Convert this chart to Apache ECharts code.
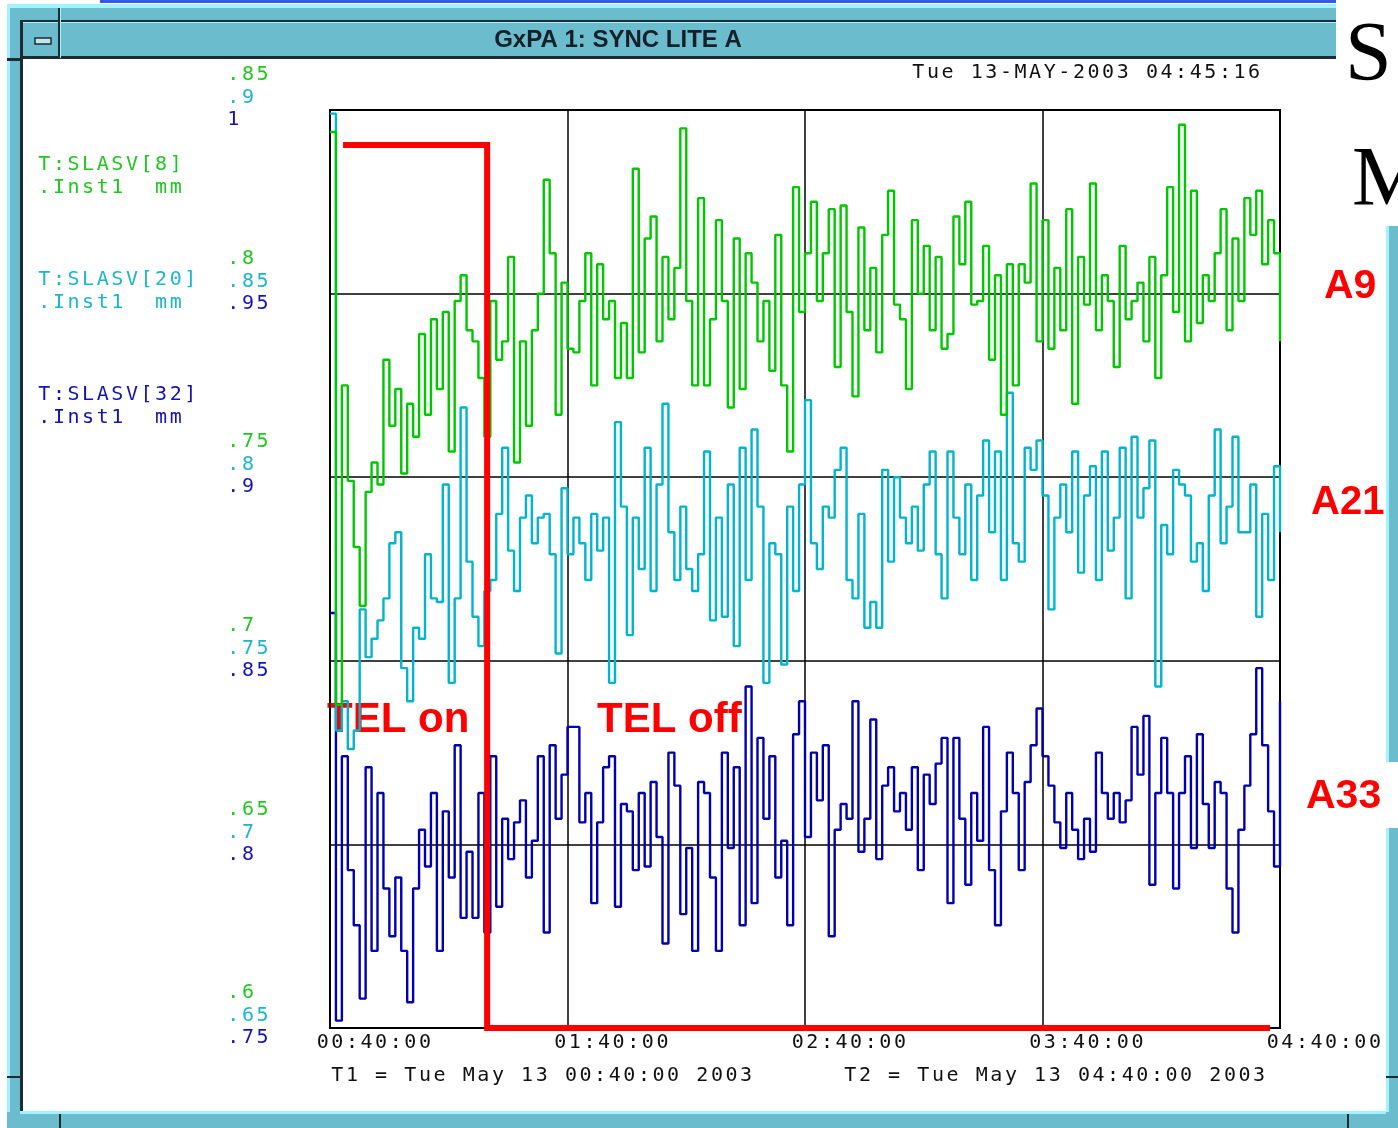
<!DOCTYPE html>
<html><head><meta charset="utf-8">
<script src="https://cdn.jsdelivr.net/npm/echarts@6/dist/echarts.min.js"></script>
<style>html,body{margin:0;padding:0;background:#fff;overflow:hidden}#c{width:1398px;height:1128px}</style>
</head><body><div id="c"></div>
<script>
// ---- data ----
const STEP_MIN = 1.5; // sample spacing in minutes from 00:40:00
const xTickLabels = ['00:40:00', '01:40:00', '02:40:00', '03:40:00', '04:40:00'];
const seriesNames = ['T:SLASV[8]', 'T:SLASV[20]', 'T:SLASV[32]'];
const unitLabel = '.Inst1  mm';
const greenTicks = ['.85', '.8', '.75', '.7', '.65', '.6'];
const cyanTicks = ['.9', '.85', '.8', '.75', '.7', '.65'];
const blueTicks = ['1', '.95', '.9', '.85', '.8', '.75'];

const greenValues = [
 0.844, 0.688, 0.775, 0.749, 0.731, 0.715, 0.746, 0.754, 0.748, 0.782, 0.764, 0.774, 0.751, 0.770, 0.761, 0.789, 0.767, 0.793, 0.774, 0.795,
 0.757, 0.798, 0.805, 0.790, 0.787, 0.777, 0.761, 0.798, 0.782, 0.787, 0.810, 0.754, 0.787, 0.764, 0.790, 0.800, 0.831, 0.811, 0.767, 0.803, 0.785,
 0.784, 0.798, 0.811, 0.775, 0.808, 0.793, 0.798, 0.777, 0.792, 0.777, 0.834, 0.784, 0.815, 0.821, 0.787, 0.810, 0.793, 0.807, 0.845, 0.798,
 0.775, 0.826, 0.775, 0.793, 0.820, 0.798, 0.769, 0.815, 0.774, 0.811, 0.803, 0.787, 0.798, 0.779, 0.816, 0.775, 0.757, 0.829, 0.795,
 0.811, 0.825, 0.798, 0.811, 0.823, 0.780, 0.824, 0.795, 0.772, 0.818, 0.790, 0.807, 0.784, 0.816, 0.828, 0.797, 0.793, 0.774, 0.820, 0.800,
 0.813, 0.790, 0.810, 0.785, 0.789, 0.821, 0.808, 0.825, 0.797, 0.798, 0.813, 0.782, 0.805, 0.767, 0.808, 0.775, 0.808, 0.803, 0.830, 0.787,
 0.820, 0.785, 0.807, 0.790, 0.823, 0.770, 0.810, 0.797, 0.830, 0.790, 0.805, 0.798, 0.780, 0.813, 0.793, 0.798, 0.803, 0.787, 0.810, 0.777,
 0.805, 0.829, 0.795, 0.846, 0.787, 0.828, 0.792, 0.805, 0.798, 0.811, 0.823, 0.790, 0.815, 0.798, 0.826, 0.816, 0.828, 0.808, 0.820, 0.811, 0.787
];
const cyanValues = [
 0.899, 0.731, 0.739, 0.726, 0.731, 0.764, 0.751, 0.756, 0.761, 0.767, 0.782, 0.785, 0.748, 0.739, 0.759, 0.756, 0.779, 0.767, 0.766, 0.798,
 0.744, 0.767, 0.819, 0.777, 0.762, 0.754, 0.769, 0.772, 0.790, 0.808, 0.780, 0.769, 0.789, 0.795, 0.782, 0.789, 0.790, 0.779, 0.752, 0.797, 0.779,
 0.789, 0.782, 0.772, 0.790, 0.780, 0.789, 0.744, 0.815, 0.792, 0.757, 0.789, 0.775, 0.808, 0.769, 0.798, 0.820, 0.785, 0.772, 0.792, 0.775,
 0.769, 0.779, 0.807, 0.761, 0.789, 0.762, 0.798, 0.754, 0.808, 0.772, 0.813, 0.792, 0.744, 0.782, 0.779, 0.749, 0.792, 0.769, 0.798,
 0.821, 0.782, 0.775, 0.792, 0.789, 0.802, 0.808, 0.772, 0.767, 0.790, 0.759, 0.766, 0.759, 0.802, 0.777, 0.800, 0.789, 0.782, 0.792, 0.780,
 0.798, 0.807, 0.779, 0.767, 0.807, 0.789, 0.779, 0.798, 0.772, 0.795, 0.810, 0.785, 0.807, 0.772, 0.823, 0.782, 0.777, 0.808, 0.802, 0.810,
 0.795, 0.764, 0.789, 0.798, 0.785, 0.807, 0.774, 0.795, 0.803, 0.772, 0.807, 0.780, 0.789, 0.808, 0.767, 0.811, 0.789, 0.797, 0.810, 0.743,
 0.787, 0.779, 0.802, 0.798, 0.795, 0.777, 0.782, 0.769, 0.795, 0.813, 0.782, 0.792, 0.811, 0.785, 0.785, 0.798, 0.762, 0.790, 0.772, 0.803, 0.785
];
const blueValues = [
 0.863, 0.752, 0.824, 0.793, 0.778, 0.758, 0.821, 0.771, 0.814, 0.788, 0.775, 0.791, 0.771, 0.757, 0.788, 0.804, 0.794, 0.814, 0.771, 0.809,
 0.791, 0.827, 0.780, 0.798, 0.780, 0.814, 0.776, 0.824, 0.783, 0.807, 0.796, 0.806, 0.812, 0.791, 0.801, 0.824, 0.776, 0.827, 0.807, 0.819, 0.832,
 0.832, 0.806, 0.814, 0.784, 0.806, 0.821, 0.824, 0.783, 0.811, 0.809, 0.793, 0.814, 0.794, 0.817, 0.802, 0.773, 0.825, 0.816, 0.781, 0.799,
 0.771, 0.817, 0.814, 0.791, 0.771, 0.825, 0.799, 0.821, 0.778, 0.843, 0.784, 0.829, 0.807, 0.824, 0.791, 0.801, 0.778, 0.830, 0.839,
 0.802, 0.825, 0.812, 0.827, 0.775, 0.804, 0.811, 0.807, 0.839, 0.798, 0.807, 0.834, 0.796, 0.816, 0.821, 0.809, 0.814, 0.804, 0.821, 0.793,
 0.819, 0.811, 0.822, 0.829, 0.784, 0.829, 0.807, 0.789, 0.814, 0.801, 0.832, 0.793, 0.778, 0.809, 0.825, 0.814, 0.793, 0.817, 0.827, 0.837,
 0.824, 0.816, 0.806, 0.799, 0.814, 0.804, 0.796, 0.807, 0.798, 0.825, 0.814, 0.807, 0.814, 0.806, 0.812, 0.832, 0.819, 0.835, 0.789, 0.814,
 0.829, 0.814, 0.788, 0.814, 0.824, 0.799, 0.830, 0.811, 0.799, 0.817, 0.814, 0.788, 0.776, 0.804, 0.816, 0.830, 0.848, 0.827, 0.809, 0.794, 0.839
];
// red TEL on/off marker path (minutes after 00:40, value on the green scale)
const telMinutes = [3.3, 39.7, 39.7, 237.5];
const telValues = [0.8405, 0.8405, 0.6, 0.6];

// ---- styling ----
const GREEN = '#00c800', CYAN = '#00b5cc', BLUE = '#0000b0';
const GREEN_T = '#1ec81e', CYAN_T = '#1cb6cc', BLUE_T = '#1414b4';
const MONO = 'DejaVu Sans Mono';
const TEAL = '#6bbccc', LIGHT = '#a2f2ff', DARK = '#1e2b33';

function mono(s) { return s.split('').map(ch => '{c|' + ch + '}').join(''); }
function monoRich(color) {
  return { c: { width: 14.6, align: 'center', fontFamily: MONO, fontSize: 20, lineHeight: 20, color: color, fill: color } };
}
function tickFmt(labels, min) { return v => mono(labels[labels.length - 1 - Math.round((v - min) / 0.05)] || ''); }

function yAxisFor(min, labels, color, padding, showSplit) {
  return {
    type: 'value', min: min, max: min + 0.25, interval: 0.05, position: 'left',
    axisLine: { show: false }, axisTick: { show: false },
    splitLine: { show: showSplit, lineStyle: { color: '#000', width: 1.5 } },
    axisLabel: { margin: 104, align: 'left', verticalAlign: 'middle', padding: padding,
      formatter: tickFmt(labels, min), rich: monoRich(color) }
  };
}

function txt(x, y, s, color) {
  return { type: 'text', x: x, y: y, silent: true,
    style: { text: mono(s), rich: monoRich(color), fill: color, verticalAlign: 'middle', align: 'left' } };
}
function big(x, y, s, size) {
  return { type: 'text', x: x, y: y, silent: true,
    style: { text: s, fill: '#ff0000', font: 'bold ' + size + 'px "Liberation Sans", Arial, sans-serif', verticalAlign: 'middle', align: 'left' } };
}
function rect(x, y, w, h, fill) { return { type: 'rect', silent: true, shape: { x: x, y: y, width: w, height: h }, style: { fill: fill } }; }

const toPairs = arr => arr.map((v, i) => [i * STEP_MIN, v]);

const chart = echarts.init(document.getElementById('c'), null, { renderer: 'canvas' });
chart.setOption({
  animation: false,
  backgroundColor: '#ffffff',
  grid: { left: 330, right: 118, top: 110, bottom: 100, show: true, borderColor: '#000', borderWidth: 2, backgroundColor: 'transparent', outerBoundsMode: 'none' },
  xAxis: {
    type: 'value', min: 0, max: 240, interval: 60,
    axisLine: { show: false }, axisTick: { show: false },
    splitLine: { show: true, lineStyle: { color: '#000', width: 1.5 } },
    axisLabel: { margin: 5, align: 'center', verticalAlign: 'top',
      formatter: v => '{g| }' + mono(xTickLabels[Math.round(v / 60)] || ''),
      rich: Object.assign({ g: { width: 87.6, fontSize: 20, fontFamily: MONO } }, monoRich('#111')) }
  },
  yAxis: [
    yAxisFor(0.6, greenTicks, GREEN_T, [0, 0, 70, 0], true),
    yAxisFor(0.65, cyanTicks, CYAN_T, [0, 0, 24, 0], false),
    yAxisFor(0.75, blueTicks, BLUE_T, [20, 0, 0, 0], false)
  ],
  series: [
    { name: seriesNames[2], type: 'line', yAxisIndex: 2, step: 'end', showSymbol: false, data: toPairs(blueValues),
      lineStyle: { color: BLUE, width: 2.4 }, itemStyle: { color: BLUE }, z: 3 },
    { name: seriesNames[1], type: 'line', yAxisIndex: 1, step: 'end', showSymbol: false, data: toPairs(cyanValues),
      lineStyle: { color: CYAN, width: 2.4 }, itemStyle: { color: CYAN }, z: 4 },
    { name: seriesNames[0], type: 'line', yAxisIndex: 0, step: 'end', showSymbol: false, data: toPairs(greenValues),
      lineStyle: { color: GREEN, width: 2.4 }, itemStyle: { color: GREEN }, z: 5 },
    { name: 'TEL', type: 'line', yAxisIndex: 0, showSymbol: false, clip: false, silent: true,
      data: telMinutes.map((m, i) => [m, telValues[i]]),
      lineStyle: { color: '#ff0000', width: 6, join: 'miter', cap: 'butt' }, itemStyle: { color: '#ff0000' }, z: 6 }
  ],
  graphic: [
    // screen / window frame
    rect(100, 0, 1236, 3, '#3457ee'),
    rect(7, 4, 1329, 5, LIGHT),
    rect(7, 8, 1329, 50, TEAL),
    rect(22, 20, 1314, 2, DARK),
    rect(22, 22, 1314, 1, LIGHT),
    rect(7, 56, 1329, 3, DARK),
    rect(58, 8, 2, 50, DARK),
    rect(60, 8, 1, 50, LIGHT),
    { type: 'rect', silent: true, shape: { x: 35, y: 38, width: 16, height: 6 }, style: { fill: '#bfe8ee', stroke: DARK, lineWidth: 1.5 } },
    rect(7, 8, 15, 1120, TEAL),
    rect(7, 8, 3, 1120, LIGHT),
    rect(20, 20, 3, 1092, DARK),
    rect(7, 58, 15, 3, DARK),
    rect(7, 1076, 15, 2, DARK),
    rect(7, 1112, 1391, 16, TEAL),
    rect(20, 1111, 1366, 3, LIGHT),
    rect(59, 1114, 2, 14, DARK),
    rect(1347, 1114, 2, 14, DARK),
    rect(1386, 226, 12, 536, TEAL),
    rect(1386, 226, 3, 536, LIGHT),
    rect(1386, 828, 12, 300, TEAL),
    rect(1386, 828, 3, 284, LIGHT),
    rect(1386, 1076, 12, 2, DARK),
    // title bar
    { type: 'text', x: 618, y: 40, silent: true,
      style: { text: 'GxPA 1: SYNC LITE A', fill: '#15202a', font: 'bold 24px "Liberation Sans", Arial, sans-serif', align: 'center', verticalAlign: 'middle' } },
    // slide text behind
    { type: 'text', x: 1345, y: 58, silent: true,
      style: { text: 'S', fill: '#000', font: '84px "Liberation Serif", serif', verticalAlign: 'middle', align: 'left', textShadowColor: '#999', textShadowOffsetX: 3, textShadowOffsetY: 3 } },
    { type: 'text', x: 1352, y: 183, silent: true,
      style: { text: 'M', fill: '#000', font: '84px "Liberation Serif", serif', verticalAlign: 'middle', align: 'left', textShadowColor: '#999', textShadowOffsetX: 3, textShadowOffsetY: 3 } },
    // texts
    txt(911, 73, 'Tue 13-MAY-2003 04:45:16', '#111'),
    txt(37, 165, seriesNames[0], GREEN_T),
    txt(37, 188, unitLabel, GREEN_T),
    txt(37, 280, seriesNames[1], CYAN_T),
    txt(37, 303, unitLabel, CYAN_T),
    txt(37, 395, seriesNames[2], BLUE_T),
    txt(37, 418, unitLabel, BLUE_T),
    txt(330, 1076, 'T1 = Tue May 13 00:40:00 2003', '#111'),
    txt(843, 1076, 'T2 = Tue May 13 04:40:00 2003', '#111'),
    // red annotations
    big(327, 720, 'TEL on', 42),
    big(597, 720, 'TEL off', 42),
    big(1324, 287, 'A9', 41),
    big(1311, 503, 'A21', 40),
    big(1306, 797, 'A33', 41)
  ]
});
</script>
</body></html>
